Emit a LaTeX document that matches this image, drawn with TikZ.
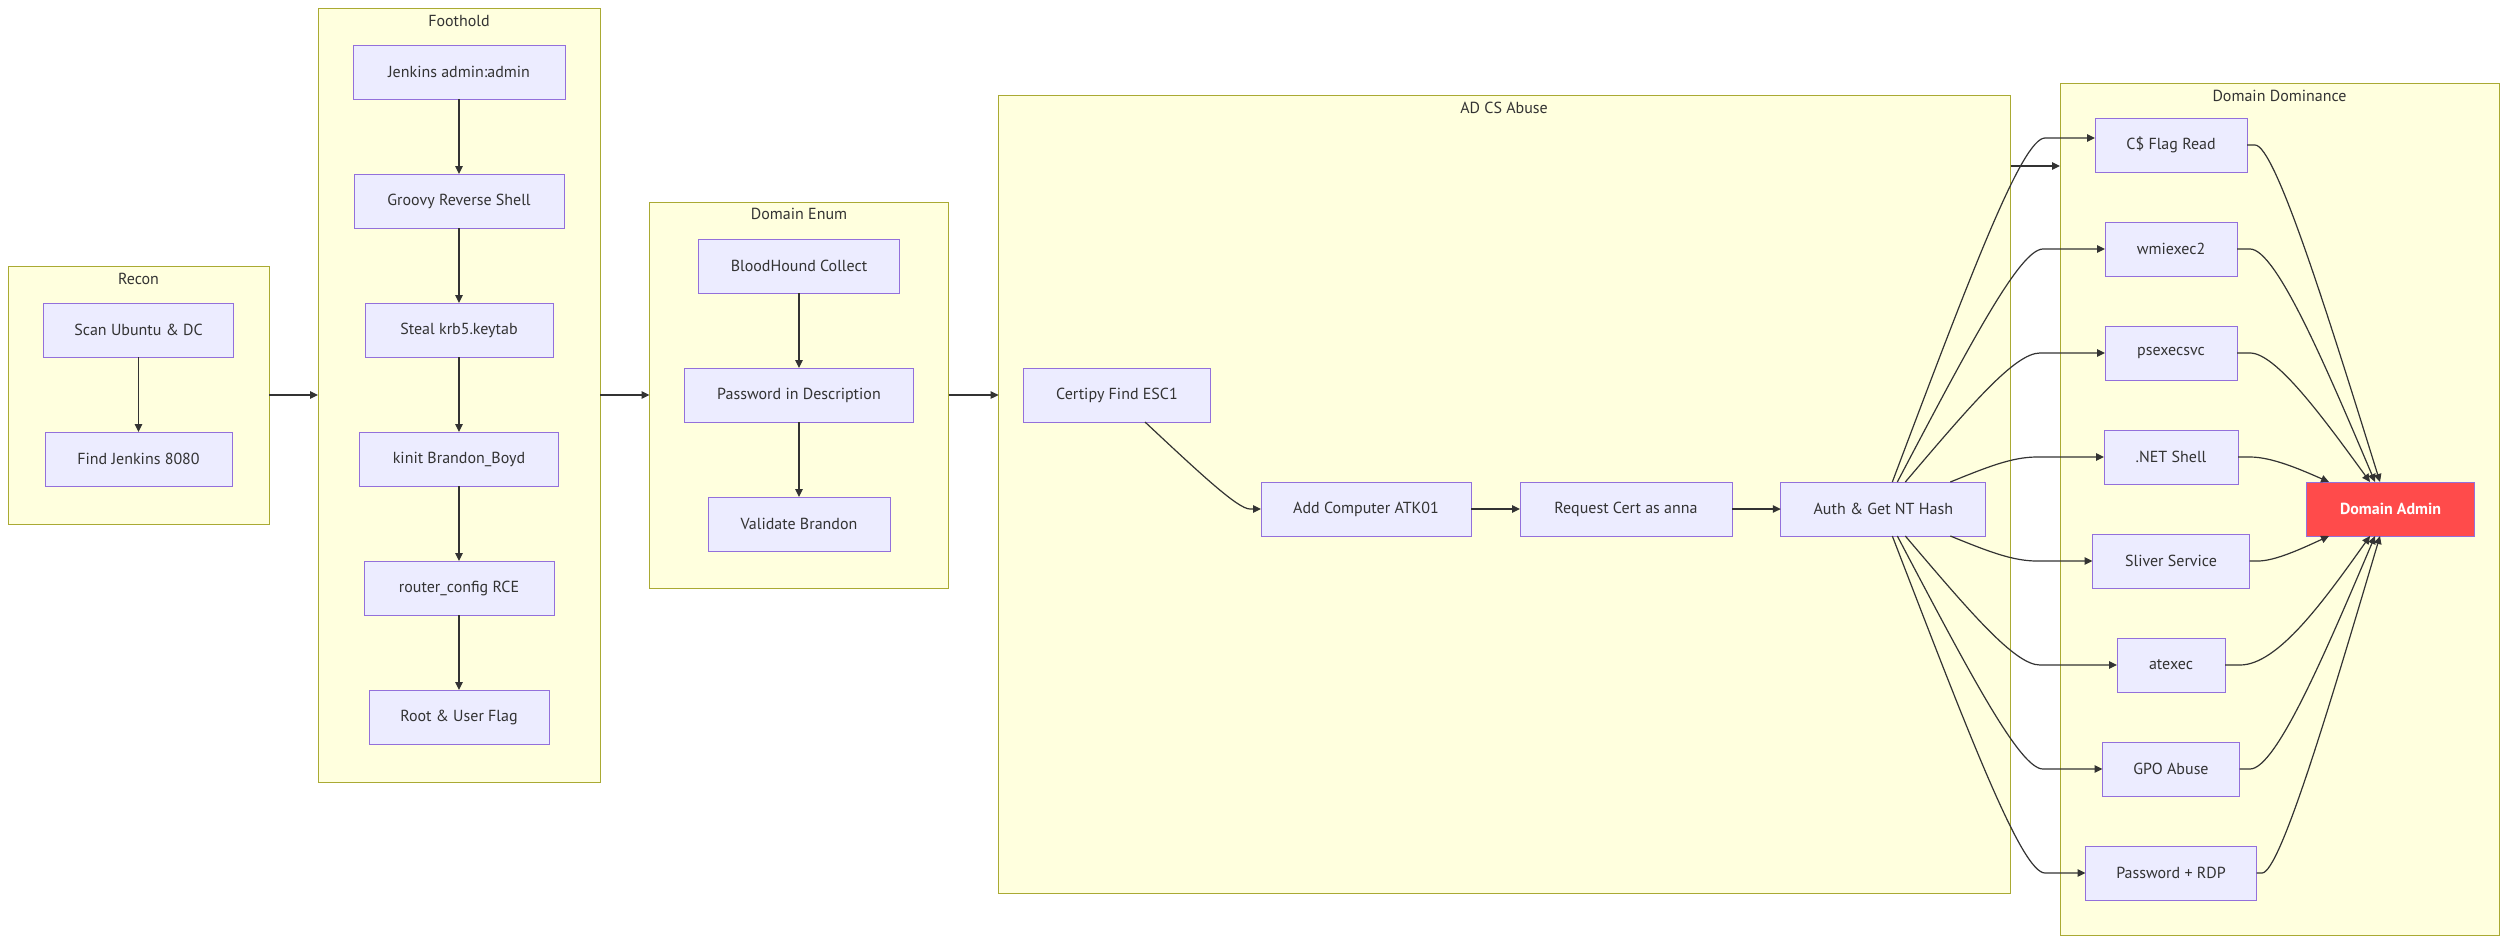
\documentclass[tikz,border=0pt]{standalone}
\usepackage{fontspec}
\setmainfont{PT Sans}
\usetikzlibrary{calc,arrows.meta}
\definecolor{clfill}{HTML}{FFFFDE}
\definecolor{cldraw}{HTML}{AAAA33}
\definecolor{ndfill}{HTML}{ECECFF}
\definecolor{nddraw}{HTML}{9370DB}
\definecolor{txt}{HTML}{333333}
\definecolor{lnc}{HTML}{333333}
\definecolor{adm}{HTML}{FF4B4B}
\begin{document}
\begin{tikzpicture}[x=1pt,y=-1pt,
 cluster/.style={draw=cldraw,fill=clfill,line width=1pt,inner sep=0,outer sep=0},
 ctitle/.style={text=txt,font=\fontsize{16}{19}\selectfont,inner sep=0},
 box/.style={draw=nddraw,fill=ndfill,line width=1pt,minimum height=54,inner sep=0,outer sep=0,text=txt,font=\fontsize{16}{19}\selectfont},
 link/.style={draw=lnc,line width=1.2pt,-{Triangle[length=8pt,width=7.5pt]}},
]
\useasboundingbox (0,0) rectangle (2507,943);
\fill[white] (0,0) rectangle (2507,943);

% clusters
\node[cluster,minimum width=261,minimum height=258] (recon) at (138.5,395) {};
\node[cluster,minimum width=282,minimum height=774] (foot) at (459,395) {};
\node[cluster,minimum width=299,minimum height=386] (enum) at (799,395) {};
\node[cluster,minimum width=1012,minimum height=798] (adcs) at (1504.6,494) {};
\node[cluster,minimum width=439,minimum height=852] (dom) at (2279.5,509) {};

\node[ctitle] (recont) at (138.5,279) {Recon};
\node[ctitle] (foott) at (459,21) {Foothold};
\node[ctitle] (enumt) at (799,214) {Domain Enum};
\node[ctitle] (adcst) at (1504,108) {AD CS Abuse};
\node[ctitle] (domt) at (2279.5,96) {Domain Dominance};

% Recon
\node[box,minimum width=190] (scan) at (138.5,330) {Scan Ubuntu \& DC};
\node[box,minimum width=187] (find) at (138.5,459) {Find Jenkins 8080};
% Foothold
\node[box,minimum width=212] (jadm) at (459,72) {Jenkins admin:admin};
\node[box,minimum width=210] (groovy) at (459,201) {Groovy Reverse Shell};
\node[box,minimum width=188] (steal) at (459,330) {Steal krb5.keytab};
\node[box,minimum width=199] (kinit) at (459,459) {kinit Brandon\_Boyd};
\node[box,minimum width=190] (router) at (459,588) {router\_config RCE};
\node[box,minimum width=180] (root) at (459,717) {Root \& User Flag};
% Domain Enum
\node[box,minimum width=201] (blood) at (799,266) {BloodHound Collect};
\node[box,minimum width=229] (pwdesc) at (799,395) {Password in Description};
\node[box,minimum width=182] (valid) at (799,524) {Validate Brandon};
% AD CS
\node[box,minimum width=187] (certipy) at (1117,395) {Certipy Find ESC1};
\node[box,minimum width=210] (addc) at (1366,509) {Add Computer ATK01};
\node[box,minimum width=212] (reqc) at (1626,509) {Request Cert as anna};
\node[box,minimum width=205] (auth) at (1883.3,509) {Auth \& Get NT Hash};
% Domain Dominance
\node[box,minimum width=152] (cflag) at (2171,145) {C\$ Flag Read};
\node[box,minimum width=132] (wmi) at (2171,249) {wmiexec2};
\node[box,minimum width=132] (psexec) at (2171,353) {psexecsvc};
\node[box,minimum width=134] (dotnet) at (2171,457) {.NET Shell};
\node[box,minimum width=157] (sliver) at (2171,561) {Sliver Service};
\node[box,minimum width=108] (atexec) at (2171,665) {atexec};
\node[box,minimum width=137] (gpo) at (2171,769) {GPO Abuse};
\node[box,minimum width=171] (rdp) at (2171,873) {Password + RDP};
\node[box,minimum width=168,fill=adm,text=white,font=\fontsize{16}{19}\selectfont\bfseries] (admin) at (2390.5,509) {Domain Admin};

% straight links
\draw[link] (scan) -- (find);
\draw[link] (jadm) -- (groovy);
\draw[link] (groovy) -- (steal);
\draw[link] (steal) -- (kinit);
\draw[link] (kinit) -- (router);
\draw[link] (router) -- (root);
\draw[link] (blood) -- (pwdesc);
\draw[link] (pwdesc) -- (valid);
\draw[link] (addc) -- (reqc);
\draw[link] (reqc) -- (auth);

% cluster links
\draw[link] (recon.east) -- (foot.west);
\draw[link] (foot.east) -- (enum.west);
\draw[link] (enum.east) -- (enum.east -| adcs.west);
\coordinate (ad) at ($(adcs.north east)+(0,71)$);
\draw[link] (ad) -- (ad -| dom.west);

% certipy -> add computer
\coordinate (cs) at ($(certipy.south)+(28,0)$);
\draw[link] (cs) .. controls ($(cs)!0.6!(1238,509)$) and (1238,509) .. (1250,509) -- (addc.west);

% auth -> dominance nodes
\coordinate (s1) at ($(auth.north)+(9,0)$);
\coordinate (s2) at ($(auth.north)+(14,0)$);
\coordinate (s3) at ($(auth.north)+(22,0)$);
\coordinate (s4) at ($(auth.north)+(67,0)$);
\coordinate (s5) at ($(auth.south)+(67,0)$);
\coordinate (s6) at ($(auth.south)+(22,0)$);
\coordinate (s7) at ($(auth.south)+(14,0)$);
\coordinate (s8) at ($(auth.south)+(9,0)$);
\draw[link] (s1) .. controls ($(s1)!0.6!(2022,138)$) and (2022,138) .. (2045,138) -- (cflag.west |- 0,138);
\draw[link] (s2) .. controls ($(s2)!0.6!(2020,249)$) and (2020,249) .. (2043,249) -- (wmi.west);
\draw[link] (s3) .. controls ($(s3)!0.6!(2015,353)$) and (2015,353) .. (2040,353) -- (psexec.west);
\draw[link] (s4) .. controls ($(s4)!0.6!(2012,457)$) and (2012,457) .. (2037,457) -- (dotnet.west);
\draw[link] (s5) .. controls ($(s5)!0.6!(2012,561)$) and (2012,561) .. (2037,561) -- (sliver.west);
\draw[link] (s6) .. controls ($(s6)!0.6!(2015,665)$) and (2015,665) .. (2040,665) -- (atexec.west);
\draw[link] (s7) .. controls ($(s7)!0.6!(2020,769)$) and (2020,769) .. (2043,769) -- (gpo.west);
\draw[link] (s8) .. controls ($(s8)!0.6!(2022,873)$) and (2022,873) .. (2045,873) -- (rdp.west);

% dominance nodes -> domain admin
\coordinate (t1) at ($(admin.north)+(-10.5,0)$);
\coordinate (t2) at ($(admin.north)+(-15.5,0)$);
\coordinate (t3) at ($(admin.north)+(-20.5,0)$);
\coordinate (t4) at ($(admin.north)+(-61.5,0)$);
\coordinate (t5) at ($(admin.south)+(-61.5,0)$);
\coordinate (t6) at ($(admin.south)+(-20.5,0)$);
\coordinate (t7) at ($(admin.south)+(-15.5,0)$);
\coordinate (t8) at ($(admin.south)+(-10.5,0)$);
\draw[link] (cflag.east) -- (2255,145) .. controls (2275,145) and ($(2275,145)!0.5!(t1)$) .. (t1);
\draw[link] (wmi.east) -- (2250,249) .. controls (2276,249) and ($(2276,249)!0.5!(t2)$) .. (t2);
\draw[link] (psexec.east) -- (2250,353) .. controls (2276,353) and ($(2276,353)!0.5!(t3)$) .. (t3);
\draw[link] (dotnet.east) -- (2250,457) .. controls (2272,457) and ($(2272,457)!0.5!(t4)$) .. (t4);
\draw[link] (sliver.east) -- (2258,561) .. controls (2275,561) and ($(2275,561)!0.5!(t5)$) .. (t5);
\draw[link] (atexec.east) -- (2240,665) .. controls (2278,665) and ($(2278,665)!0.5!(t6)$) .. (t6);
\draw[link] (gpo.east) -- (2250,769) .. controls (2276,769) and ($(2276,769)!0.5!(t7)$) .. (t7);
\draw[link] (rdp.east) -- (2262,873) .. controls (2280,873) and ($(2280,873)!0.5!(t8)$) .. (t8);
\end{tikzpicture}
\end{document}
